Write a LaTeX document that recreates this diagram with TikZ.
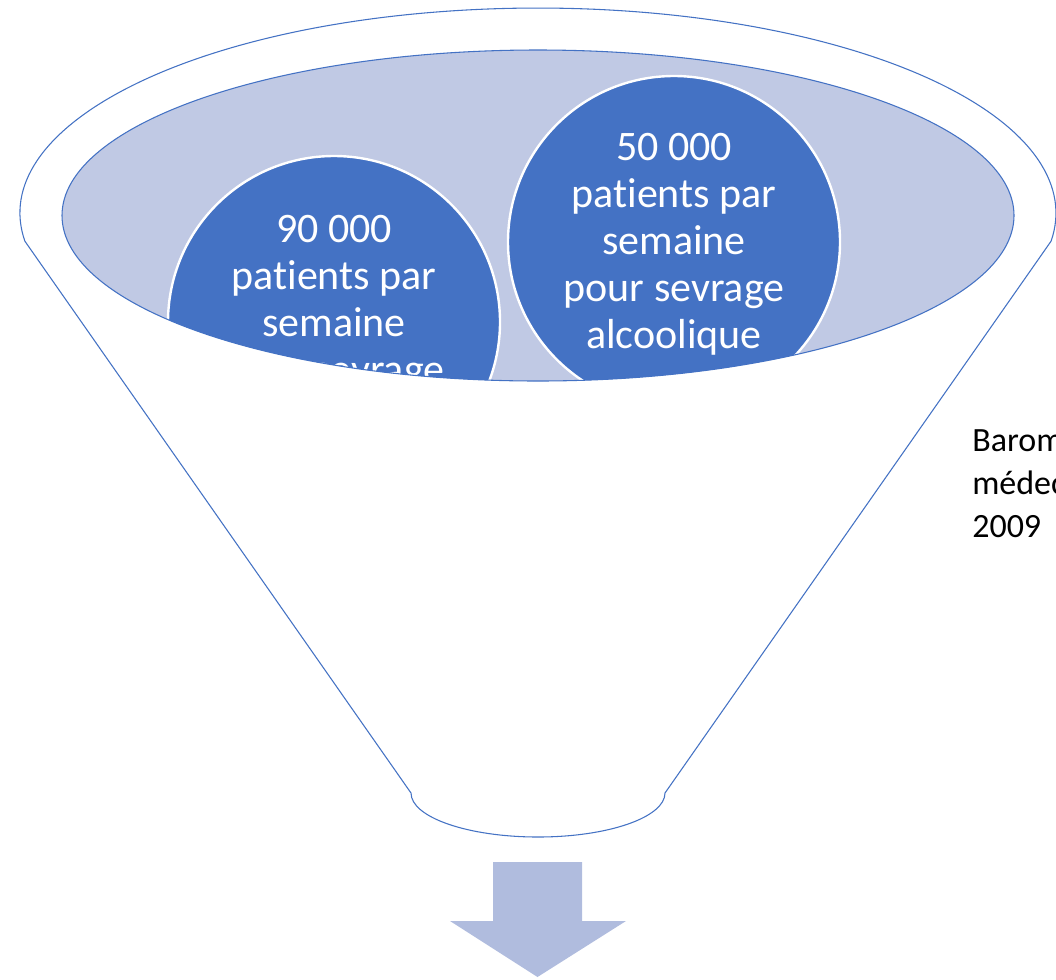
\documentclass[tikz,border=0pt]{standalone}
\usepackage{fontspec}
\newfontfamily\carlito[Ligatures=NoCommon, RawFeature={-liga;-dlig}]{Carlito}
\definecolor{funnelblue}{HTML}{4472C4}
\definecolor{ellfill}{RGB}{192,201,228}
\definecolor{arrowfill}{RGB}{176,188,222}
\tikzset{
  funnel/.style={draw=funnelblue, line width=0.8pt, fill=white},
  bubble/.style={fill=funnelblue, draw=white, line width=1.8pt},
  ctext/.style={font=\carlito\fontsize{31.5pt}{36pt}\selectfont, text=white, anchor=base, inner sep=0pt},
  rtext/.style={font=\carlito\fontsize{25.5pt}{32pt}\selectfont, text=black, anchor=base west, inner sep=0pt},
}
\begin{document}
\begin{tikzpicture}[x=0.75pt, y=-0.75pt]
\useasboundingbox (0,0) rectangle (1056,979);
\clip (0,0) rectangle (1056,979);
% funnel outline
\draw[funnel] (24.9,241.2) arc[start angle=172.1, end angle=367.9, x radius=518, y radius=205]
  -- (665,793) arc[start angle=0, end angle=180, x radius=127, y radius=44] -- cycle;
% inner ellipse
\fill[ellfill] (538,215.5) ellipse [x radius=476, y radius=165.5];
\begin{scope}
  \clip (538,215.5) ellipse [x radius=476, y radius=165.5];
  \draw[bubble] (334,322) circle [radius=166];
  \draw[bubble] (674,242) circle [radius=166];
  \node[ctext] (l1) at (334,242) {90 000};
  \node[ctext] (l2) at (334,289) {patients par};
  \node[ctext] (l3) at (334,336) {semaine};
  \node[ctext] (l4) at (334,383) {pour sevrage};
  \node[ctext] (r1) at (674,160) {50 000};
  \node[ctext] (r2) at (674,207) {patients par};
  \node[ctext] (r3) at (674,254) {semaine};
  \node[ctext] (r4) at (674,301) {pour sevrage};
  \node[ctext] (r5) at (674,348) {alcoolique};
\end{scope}
\draw[funnelblue, line width=0.8pt] (538,215.5) ellipse [x radius=476, y radius=165.5];
% arrow
\fill[arrowfill] (493,862) -- (582,862) -- (582,921) -- (626,921) -- (537.5,977)
  -- (450,921) -- (493,921) -- cycle;
% source text
\node[rtext] (s1) at (972,451) {Baromètre santé};
\node[rtext] (s2) at (972,494) {médecins généralistes};
\node[rtext] (s3) at (972,537) {2009};
\end{tikzpicture}
\end{document}
